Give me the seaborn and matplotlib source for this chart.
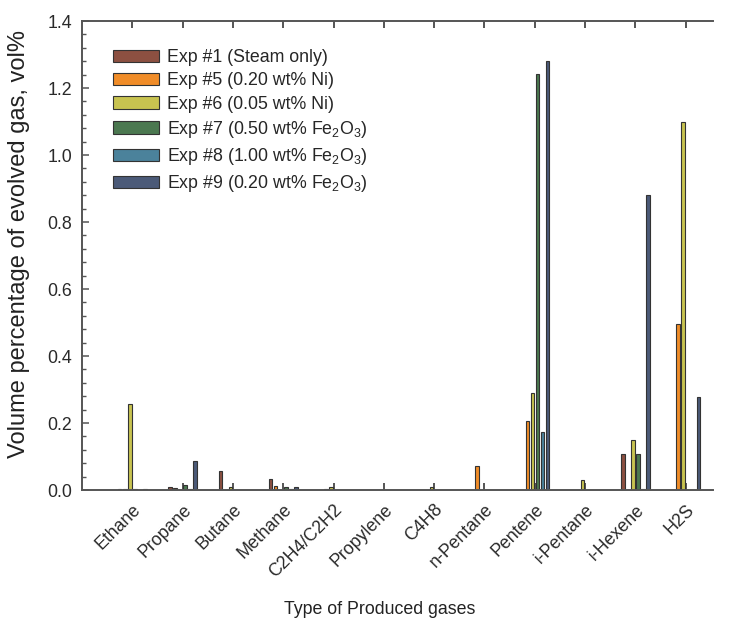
import numpy as np
import pandas as pd
import matplotlib
matplotlib.use("Agg")
import matplotlib.pyplot as plt
from matplotlib.ticker import AutoMinorLocator, FormatStrFormatter
import seaborn as sns

categories = ["Ethane", "Propane", "Butane", "Methane", "C2H4/C2H2", "Propylene",
              "C4H8", "n-Pentane", "Pentene", "i-Pentane", "i-Hexene", "H2S"]
exp1 = [0.003, 0.010, 0.057, 0.033, 0.000, 0.0, 0.000, 0.000, 0.000, 0.000, 0.107, 0.000]
exp5 = [0.004, 0.006, 0.000, 0.013, 0.003, 0.0, 0.000, 0.073, 0.206, 0.000, 0.000, 0.496]
exp6 = [0.258, 0.000, 0.008, 0.000, 0.010, 0.0, 0.008, 0.000, 0.290, 0.030, 0.149, 1.100]
exp7 = [0.003, 0.015, 0.000, 0.008, 0.000, 0.0, 0.000, 0.000, 1.243, 0.000, 0.107, 0.000]
exp8 = [0.000, 0.003, 0.000, 0.003, 0.000, 0.0, 0.000, 0.000, 0.174, 0.000, 0.003, 0.000]
exp9 = [0.003, 0.087, 0.000, 0.010, 0.000, 0.0, 0.000, 0.000, 1.281, 0.000, 0.882, 0.279]
series_labels = ["Exp #1 (Steam only)", "Exp #5 (0.20 wt% Ni)", "Exp #6 (0.05 wt% Ni)",
                 "Exp #7 (0.50 wt% Fe$_2$O$_3$)", "Exp #8 (1.00 wt% Fe$_2$O$_3$)",
                 "Exp #9 (0.20 wt% Fe$_2$O$_3$)"]
colors = ["#8C5041", "#F08C28", "#C8C350", "#4B7850", "#4B829B", "#4B5A78"]

series = [exp1, exp5, exp6, exp7, exp8, exp9]
rows = []
for lab, vals in zip(series_labels, series):
    for c, v in zip(categories, vals):
        rows.append({"gas": c, "exp": lab, "val": v})
df = pd.DataFrame(rows)

sns.set_style("ticks")
plt.rcParams["font.family"] = ["Liberation Sans", "DejaVu Sans"]
plt.rcParams["mathtext.fontset"] = "custom"
plt.rcParams["mathtext.rm"] = "Liberation Sans"
plt.rcParams["mathtext.it"] = "Liberation Sans:italic"
plt.rcParams["mathtext.default"] = "regular"

fig = plt.figure(figsize=(7.3, 6.19), dpi=100)
ax = fig.add_axes([0.1123, 0.2084, 0.865, 0.7576])

sns.barplot(data=df, x="gas", y="val", hue="exp", order=categories,
            hue_order=series_labels, palette=colors, saturation=1, width=0.6, gap=0.3,
            edgecolor="#333333", linewidth=0.8, errorbar=None, ax=ax)

ax.set_xlim(-1, 11.55)
ax.set_ylim(0, 1.4)
ax.set_yticks(np.arange(0, 1.41, 0.2))
ax.yaxis.set_major_formatter(FormatStrFormatter("%.1f"))
ax.yaxis.set_minor_locator(AutoMinorLocator(5))

spine_c = "#555555"
for s in ["left", "bottom", "top"]:
    ax.spines[s].set_visible(True)
    ax.spines[s].set_color(spine_c)
    ax.spines[s].set_linewidth(1.4)
ax.spines["right"].set_visible(False)

ax.tick_params(axis="both", which="both", direction="in", color=spine_c,
               labelcolor="#2a2a2a", labelsize=12.8)
ax.tick_params(axis="x", which="major", top=True, length=5, width=1.4)
ax.tick_params(axis="y", which="major", length=5, width=1.1)
ax.tick_params(axis="y", which="minor", length=3, width=1.0)
ax.tick_params(axis="y", pad=7)
ax.tick_params(axis="x", pad=8)
plt.setp(ax.get_xticklabels(), rotation=45, ha="right", rotation_mode="anchor")

ax.set_xlabel("Type of Produced gases", fontsize=12.8, color="#222222")
ax.set_ylabel("Volume percentage of evolved gas, vol%", fontsize=17, color="#222222")
ax.xaxis.set_label_coords(0.472, -0.236)
ax.yaxis.set_label_coords(-0.082, 0.525)

handles, labels = ax.get_legend_handles_labels()
ax.legend(handles, labels, loc="upper left", bbox_to_anchor=(0.038, 0.955),
          frameon=False, fontsize=12.8, handlelength=2.6, handleheight=0.7,
          labelspacing=0.35, handletextpad=0.45, borderaxespad=0.0)

fig.savefig("out.png", dpi=100)
